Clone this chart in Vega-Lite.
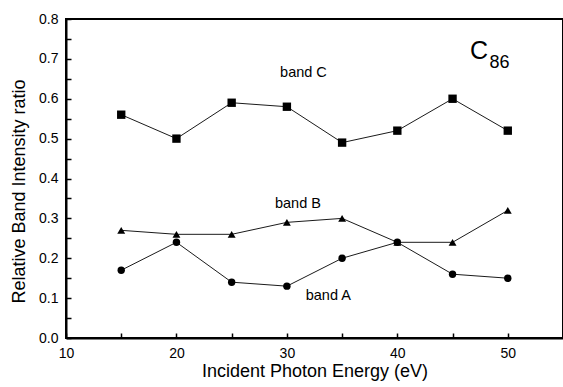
{
  "$schema": "https://vega.github.io/schema/vega-lite/v6.json",
  "width": 497,
  "height": 319,
  "autosize": {"type": "none"},
  "padding": {"left": 66, "top": 19, "right": 0, "bottom": 49},
  "background": "white",
  "config": {
    "view": {"stroke": "black", "strokeWidth": 2},
    "font": "Liberation Sans",
    "axis": {
      "grid": false,
      "domainColor": "black",
      "domainWidth": 2,
      "tickColor": "black",
      "tickWidth": 1.5,
      "labelColor": "black",
      "titleColor": "black",
      "titleFontWeight": "normal",
      "labelFontSize": 14,
      "titleFontSize": 18,
      "labelFlush": false,
      "labelOverlap": false
    }
  },
  "data": {"values": [
    {"energy": 15, "ratio": 0.56, "band": "C"},
    {"energy": 20, "ratio": 0.50, "band": "C"},
    {"energy": 25, "ratio": 0.59, "band": "C"},
    {"energy": 30, "ratio": 0.58, "band": "C"},
    {"energy": 35, "ratio": 0.49, "band": "C"},
    {"energy": 40, "ratio": 0.52, "band": "C"},
    {"energy": 45, "ratio": 0.60, "band": "C"},
    {"energy": 50, "ratio": 0.52, "band": "C"},
    {"energy": 15, "ratio": 0.27, "band": "B"},
    {"energy": 20, "ratio": 0.26, "band": "B"},
    {"energy": 25, "ratio": 0.26, "band": "B"},
    {"energy": 30, "ratio": 0.29, "band": "B"},
    {"energy": 35, "ratio": 0.30, "band": "B"},
    {"energy": 40, "ratio": 0.24, "band": "B"},
    {"energy": 45, "ratio": 0.24, "band": "B"},
    {"energy": 50, "ratio": 0.32, "band": "B"},
    {"energy": 15, "ratio": 0.17, "band": "A"},
    {"energy": 20, "ratio": 0.24, "band": "A"},
    {"energy": 25, "ratio": 0.14, "band": "A"},
    {"energy": 30, "ratio": 0.13, "band": "A"},
    {"energy": 35, "ratio": 0.20, "band": "A"},
    {"energy": 40, "ratio": 0.24, "band": "A"},
    {"energy": 45, "ratio": 0.16, "band": "A"},
    {"energy": 50, "ratio": 0.15, "band": "A"}
  ]},
  "encoding": {
    "x": {
      "field": "energy",
      "type": "quantitative",
      "scale": {"domain": [10, 55], "nice": false, "zero": false},
      "axis": {
        "title": "Incident Photon Energy (eV)",
        "values": [10, 15, 20, 25, 30, 35, 40, 45, 50],
        "labelExpr": "datum.value % 10 === 0 ? datum.label : ''",
        "tickSize": -5,
        "labelPadding": 13,
        "titleY": 24,
        "titleBaseline": "top"
      }
    },
    "y": {
      "field": "ratio",
      "type": "quantitative",
      "scale": {"domain": [0, 0.8], "nice": false},
      "axis": {
        "title": "Relative Band Intensity ratio",
        "values": [0, 0.05, 0.1, 0.15, 0.2, 0.25, 0.3, 0.35, 0.4, 0.45, 0.5, 0.55, 0.6, 0.65, 0.7, 0.75, 0.8],
        "labelExpr": "abs(round(datum.value * 100) % 10) === 0 ? format(datum.value, '.1f') : ''",
        "tickSize": -5,
        "labelPadding": 13,
        "titleX": -38,
        "titleY": 172,
        "titleBaseline": "bottom"
      }
    }
  },
  "layer": [
    {
      "mark": {"type": "line", "color": "black", "strokeWidth": 0.9},
      "encoding": {"detail": {"field": "band"}}
    },
    {
      "mark": {"type": "point", "filled": true, "color": "black", "opacity": 1},
      "encoding": {
        "shape": {
          "field": "band",
          "type": "nominal",
          "scale": {"domain": ["A", "B", "C"], "range": ["circle", "triangle-up", "square"]},
          "legend": null
        },
        "size": {
          "field": "band",
          "type": "nominal",
          "scale": {"domain": ["A", "B", "C"], "range": [55, 70, 58]},
          "legend": null
        }
      }
    },
    {
      "data": {"values": [
        {"energy": 31.5, "ratio": 0.664, "text": "band C"},
        {"energy": 31.0, "ratio": 0.336, "text": "band B"},
        {"energy": 33.75, "ratio": 0.105, "text": "band A"}
      ]},
      "mark": {"type": "text", "fontSize": 14.5, "color": "black"},
      "encoding": {"text": {"field": "text"}}
    },
    {
      "data": {"values": [{"energy": 47.4, "ratio": 0.72, "text": "C"}]},
      "mark": {"type": "text", "fontSize": 25, "color": "black"},
      "encoding": {"text": {"field": "text"}}
    },
    {
      "data": {"values": [{"energy": 49.25, "ratio": 0.69, "text": "86"}]},
      "mark": {"type": "text", "fontSize": 18, "color": "black"},
      "encoding": {"text": {"field": "text"}}
    }
  ]
}
